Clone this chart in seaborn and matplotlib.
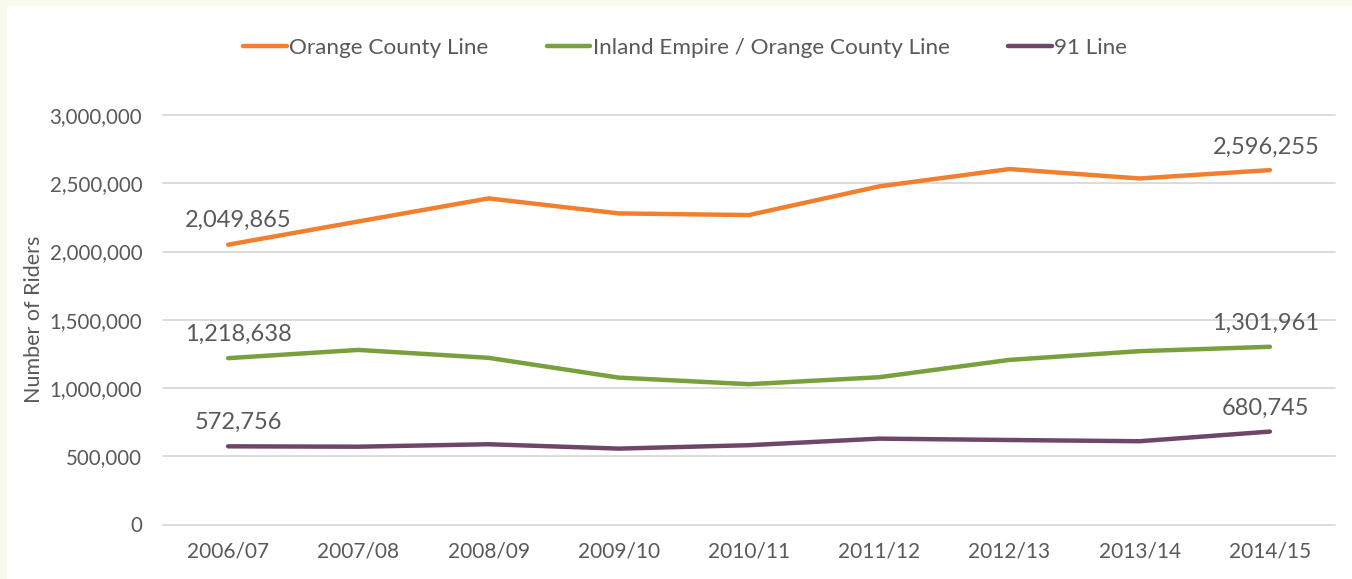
import numpy as np
import pandas as pd
import matplotlib
matplotlib.use("Agg")
import matplotlib.pyplot as plt
import seaborn as sns
from matplotlib.ticker import FuncFormatter

years = ["2006/07", "2007/08", "2008/09", "2009/10", "2010/11",
         "2011/12", "2012/13", "2013/14", "2014/15"]
orange_county = [2049865, 2220000, 2389000, 2279000, 2267000,
                 2477000, 2604000, 2535000, 2596255]
inland_empire = [1218638, 1279000, 1221000, 1076000, 1028000,
                 1079000, 1206000, 1270000, 1301961]
line_91 = [572756, 570000, 588000, 556000, 581000,
           629000, 619000, 610000, 680745]
series_names = ["Orange County Line", "Inland Empire / Orange County Line", "91 Line"]
colors = ["#F08030", "#78A03C", "#6E4768"]
y_ticks = [0, 500000, 1000000, 1500000, 2000000, 2500000, 3000000]

df = pd.DataFrame({
    "year": years * 3,
    "x": list(range(len(years))) * 3,
    "riders": orange_county + inland_empire + line_91,
    "line": sum([[n] * len(years) for n in series_names], []),
})

sns.set_theme(style="white")
plt.rcParams["font.family"] = ["Lato", "DejaVu Sans"]
text_color = "#595959"

fig = plt.figure(figsize=(13.52, 5.79), dpi=100, facecolor="#F8FAEC")
# white panel inside the cream border
bg = plt.Rectangle((7 / 1352, 0), 1, 1 - 6 / 579, transform=fig.transFigure,
                   color="white", zorder=-10)
fig.patches.append(bg)
ax = fig.add_axes([163 / 1352, (579 - 524.5) / 579, (1335 - 163) / 1352, (524.5 - 115) / 579])
ax.set_facecolor("none")

sns.lineplot(data=df, x="x", y="riders", hue="line", palette=colors,
             hue_order=series_names, linewidth=3.2, ax=ax, legend=True,
             solid_capstyle="round")

ax.set_xlim(-0.5, len(years) - 0.5)
ax.set_ylim(0, 3000000)
ax.set_xticks(range(len(years)))
ax.set_xticklabels(years)
ax.set_yticks(y_ticks)
ax.yaxis.set_major_formatter(FuncFormatter(lambda v, p: f"{int(v):,}"))
ax.tick_params(axis="x", length=0, pad=12, labelsize=15, labelcolor=text_color)
ax.tick_params(axis="y", length=0, pad=15, labelsize=14.8, labelcolor=text_color)
ax.yaxis.grid(True, color="#D9D9D9", linewidth=1.3)
for gl in ax.get_ygridlines():
    gl.set_clip_on(False)
ax.set_axisbelow(True)
for s in ax.spines.values():
    s.set_visible(False)
ax.set_xlabel("")
ax.set_ylabel("Number of Riders", fontsize=15.5, color=text_color, labelpad=4)

# data labels on first and last points
for vals in [orange_county, inland_empire, line_91]:
    ax.annotate(f"{vals[0]:,}", (0, vals[0]), xytext=(10, 24), textcoords="offset pixels",
                ha="center", va="center", fontsize=17, color=text_color)
    ax.annotate(f"{vals[-1]:,}", (len(years) - 1, vals[-1]), xytext=(-4, 23),
                textcoords="offset pixels", ha="center", va="center",
                fontsize=17, color=text_color)

handles, labels = ax.get_legend_handles_labels()
leg = ax.legend(handles, labels, loc="center", bbox_to_anchor=(685 / 1352, 1 - 48 / 579),
                bbox_transform=fig.transFigure, ncol=3, frameon=False, fontsize=16.2,
                handlelength=1.95, handletextpad=0.1, columnspacing=2.6)
for t in leg.get_texts():
    t.set_color(text_color)
for h in leg.legend_handles:
    h.set_linewidth(3.2)

fig.savefig("out.png", dpi=100, facecolor=fig.get_facecolor())
